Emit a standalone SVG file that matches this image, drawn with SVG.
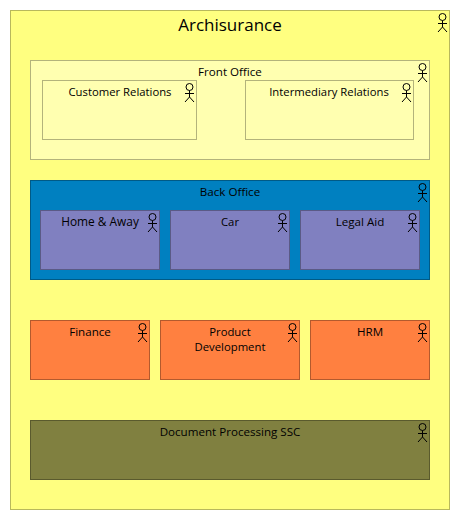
<svg xmlns="http://www.w3.org/2000/svg" width="460" height="520" viewBox="0 0 460 520">
<style>
text{font-family:"Open Sans","Noto Sans","Liberation Sans",sans-serif;font-size:11.3px;fill:#000;text-anchor:middle}
.title{font-size:17px}
.w{font-size:11.6px}
.a path,.a circle{fill:none;stroke:#000;stroke-width:1}
.y0{fill:#ffff80;stroke:#b8b85c}
.y1{fill:#ffffb0;stroke:#b3b37b}
.b{fill:#0080c0;stroke:#005a86}
.p{fill:#8080c0;stroke:#5a5a86}
.o{fill:#ff8040;stroke:#b35a2d}
.d{fill:#808040;stroke:#5a5a2d}
</style>
<defs>
<g id="actor" class="a"><circle cx="0" cy="0" r="3.5"/><path d="M0 3.5V10M-4.5 6.5H4.5M-4.5 15L0 10L4.5 15"/></g>
</defs>
<g id="connectors"/>
<g id="archisurance"><rect class="y0" x="10.5" y="10.5" width="439" height="499"/><text class="title" x="230" y="31">Archisurance</text><use href="#actor" x="442.5" y="17"/></g>
<g id="front-office"><rect class="y1" x="30.5" y="60.5" width="399" height="99"/><text class="w" x="230" y="76">Front Office</text><use href="#actor" x="422.5" y="67"/></g>
<g id="customer-relations"><rect class="y1" x="42.5" y="80.5" width="154" height="59"/><text x="120" y="96">Customer Relations</text><use href="#actor" x="189.5" y="87"/></g>
<g id="intermediary-relations"><rect class="y1" x="245.5" y="80.5" width="168" height="59"/><text x="329" y="96">Intermediary Relations</text><use href="#actor" x="406.5" y="87"/></g>
<g id="back-office"><rect class="b" x="30.5" y="180.5" width="399" height="99"/><text class="w" x="230" y="196">Back Office</text><use href="#actor" x="422.5" y="187"/></g>
<g id="home-away"><rect class="p" x="40.5" y="210.5" width="119" height="59"/><text class="w" x="100" y="226" style="font-size:11.9px">Home &amp; Away</text><use href="#actor" x="152.5" y="217"/></g>
<g id="car"><rect class="p" x="170.5" y="210.5" width="119" height="59"/><text x="230" y="226">Car</text><use href="#actor" x="282.5" y="217"/></g>
<g id="legal-aid"><rect class="p" x="300.5" y="210.5" width="119" height="59"/><text class="w" x="360" y="226">Legal Aid</text><use href="#actor" x="412.5" y="217"/></g>
<g id="finance"><rect class="o" x="30.5" y="320.5" width="119" height="59"/><text class="w" x="90" y="336">Finance</text><use href="#actor" x="142.5" y="327"/></g>
<g id="product-development"><rect class="o" x="160.5" y="320.5" width="139" height="59"/><text x="230" y="336">Product</text><text x="230" y="351">Development</text><use href="#actor" x="292.5" y="327"/></g>
<g id="hrm"><rect class="o" x="310.5" y="320.5" width="119" height="59"/><text class="w" x="370" y="336">HRM</text><use href="#actor" x="422.5" y="327"/></g>
<g id="document-processing-ssc"><rect class="d" x="30.5" y="420.5" width="399" height="59"/><text class="w" x="230" y="436">Document Processing SSC</text><use href="#actor" x="422.5" y="427"/></g>
</svg>
